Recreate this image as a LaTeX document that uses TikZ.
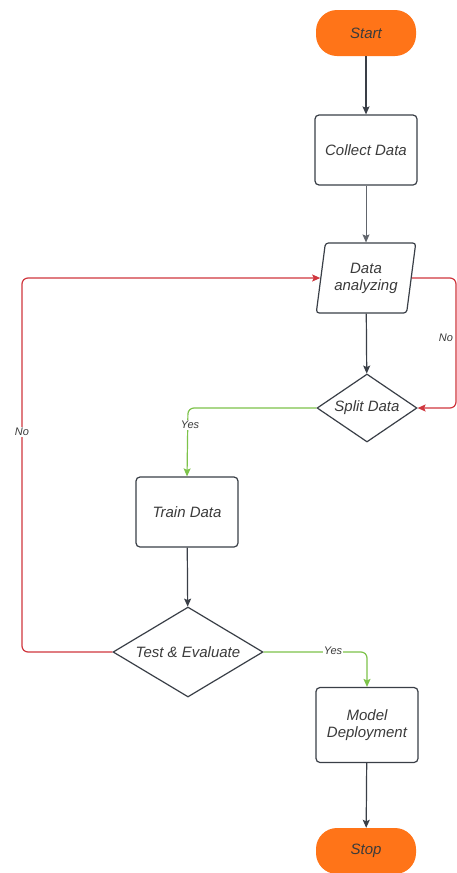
\documentclass[tikz,border=0pt]{standalone}
\usepackage{fontspec}
\setmainfont{Liberation Sans}
\usepackage{tikz}
\usetikzlibrary{shapes.geometric,arrows.meta}
\definecolor{flowOrange}{HTML}{FF7418}
\definecolor{flowLine}{HTML}{3A3F47}
\definecolor{flowText}{HTML}{3B3B3B}
\definecolor{flowRed}{HTML}{D0363E}
\definecolor{flowGreen}{HTML}{7DC34A}

\begin{document}
\begin{tikzpicture}[x=1pt, y=-1pt,
    every node/.style={font=\fontsize{15}{17}\selectfont\itshape, text=flowText, align=center},
    terminal/.style={shape=rectangle, rounded corners=21pt, fill=flowOrange, minimum width=100pt, minimum height=46pt},
    process/.style={shape=rectangle, draw=flowLine, line width=1.2pt, rounded corners=4pt, minimum width=102pt, minimum height=70pt},
    inout/.style={shape=trapezium, trapezium left angle=78, trapezium right angle=102, trapezium stretches=true, draw=flowLine, line width=1.2pt, rounded corners=3pt, minimum width=100pt, minimum height=70pt},
    decision/.style={shape=diamond, draw=flowLine, line width=1.2pt, inner sep=0pt},
    tip/.style={-{Stealth[length=8pt, width=7pt, inset=1.5pt]}},
    flow/.style={tip, draw=flowLine, line width=1.2pt},
    noflow/.style={tip, draw=flowRed, line width=1.2pt, rounded corners=6pt},
    yesflow/.style={tip, draw=flowGreen, line width=1.2pt, rounded corners=6pt},
    edgelabel/.style={font=\fontsize{11}{13}\selectfont\itshape, fill=white, inner sep=1pt}]

    \useasboundingbox (0, 0) rectangle (457, 873);
    \fill[white] (0, 0) rectangle (457, 873);

    \node[terminal] (start) at (366, 33) {Start};
    \node[process] (collect) at (366, 150) {Collect Data};
    \node[inout] (analyze) at (366, 278) {Data\\analyzing};
    \node[decision, aspect=2.2, minimum width=100pt, minimum height=68pt] (split) at (367, 408) {Split Data};
    \node[process] (train) at (187, 512) {Train Data};
    \node[decision, aspect=2.6, minimum width=150pt, minimum height=90pt] (test) at (188, 652) {Test \& Evaluate};
    \node[process, minimum height=75pt] (model) at (367, 725) {Model\\Deployment};
    \node[terminal] (stop) at (366, 851) {Stop};

    \coordinate (noLeftB) at (22, 652);
    \coordinate (noLeftT) at (22, 278);
    \coordinate (noRightT) at (456, 278);
    \coordinate (noRightB) at (456, 408);
    \coordinate (yesSplit) at (188, 408);
    \coordinate (yesTest) at (367, 652);

    \draw[flow] (start) -- (collect);
    \draw[flow, draw=flowLine!80, line width=0.7pt] (collect) -- (analyze);
    \draw[flow] (analyze) -- (split);
    \draw[flow] (train) -- (test);
    \draw[flow] (model) -- (stop);

    \draw[yesflow] (split.west) -- (yesSplit) -- (train.north);
    \draw[yesflow] (test.east) -- (yesTest) -- (model.north);
    \draw[noflow] (test.west) -- (noLeftB) -- (noLeftT) -- (analyze.west);
    \draw[noflow] (analyze.east) -- (noRightT) -- (noRightB) -- (split.east);

    \node[edgelabel] (yesA) at (190, 425) {Yes};
    \node[edgelabel] (yesB) at (333, 651) {Yes};
    \node[edgelabel] (noA) at (22, 432) {No};
    \node[edgelabel] (noB) at (446, 338) {No};
\end{tikzpicture}
\end{document}
